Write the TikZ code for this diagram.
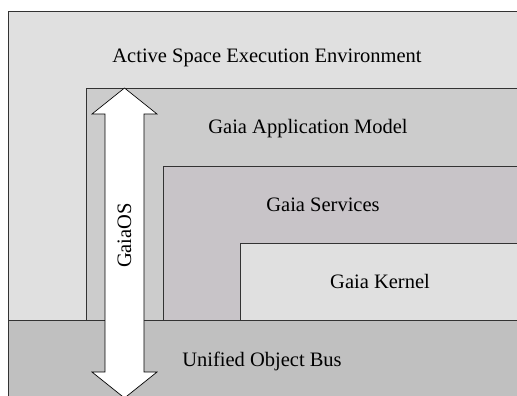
\documentclass[tikz,border=0pt]{standalone}
\usepackage{fontspec}
\setmainfont{Liberation Serif}
\usepackage{tikz}
\usetikzlibrary{positioning}

\definecolor{envgray}{HTML}{E0E0E0}
\definecolor{appgray}{HTML}{CCCCCC}
\definecolor{svcgray}{HTML}{C8C4C8}
\definecolor{busgray}{HTML}{C0C0C0}
\definecolor{edge}{HTML}{333333}

\begin{document}
\begin{tikzpicture}[x=1pt, y=-1pt,
    layer/.style={draw=edge, line width=0.8pt},
    lbl/.style={anchor=base, inner sep=0pt, font=\fontsize{20.5}{24}\selectfont},
    osarrow/.style={draw=black, fill=white, line width=0.7pt, line join=miter},
  ]
  \useasboundingbox (0,0) rectangle (517,396);
  \clip (0,0) rectangle (517,396);

  % layers, each one open to the right and down
  \draw[layer, fill=envgray] (8,11) rectangle (540,320);
  \draw[layer, fill=appgray] (86,88) rectangle (540,320);
  \draw[layer, fill=svcgray] (163,166) rectangle (540,320);
  \draw[layer, fill=envgray] (240,243) rectangle (540,320);
  \draw[layer, fill=busgray] (8,320) rectangle (540,420);

  \node[lbl] (env) at (267,63) {Active Space Execution Environment};
  \node[lbl] (app) at (308,133.5) {Gaia Application Model};
  \node[lbl] (svc) at (323,211) {Gaia Services};
  \node[lbl] (kern) at (380,288) {Gaia Kernel};
  \node[lbl] (bus) at (262,366) {Unified Object Bus};

  % GaiaOS spans everything
  \draw[osarrow] (124.5,88) -- (157,114) -- (144,114) -- (144,372)
    -- (157,372) -- (124.5,398) -- (92,372) -- (105,372)
    -- (105,114) -- (92,114) -- cycle;
  \node[rotate=90, inner sep=0pt, font=\fontsize{20.5}{24}\selectfont]
    (os) at (124.5,235.5) {GaiaOS};
\end{tikzpicture}
\end{document}
